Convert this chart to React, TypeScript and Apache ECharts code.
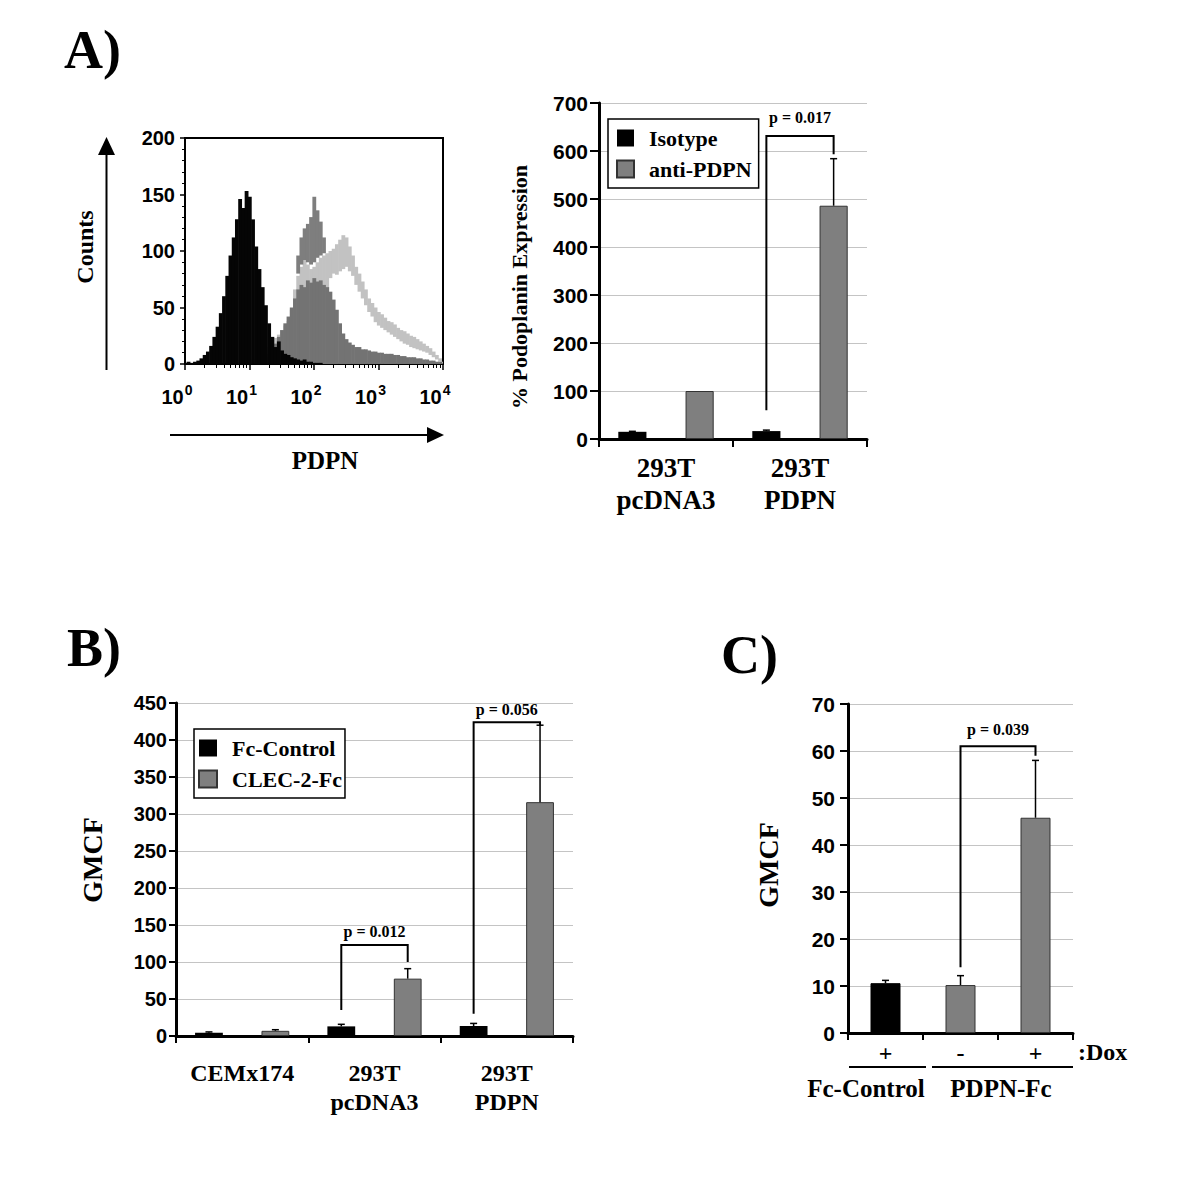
import React, { useEffect, useRef } from "react";
import * as echarts from "echarts";

const SERIF = '"Liberation Serif", "Times New Roman", serif';
const SANS = '"Liberation Sans", Arial, sans-serif';

// ---------- Panel A, left: flow cytometry histogram (x = log10 PDPN, bins of 0.05 decade) ----------
const histDecades = [0, 1, 2, 3, 4];
const histMinorMultipliers = [2, 3, 4, 5, 6, 7, 8, 9];
const histBinStep = 0.05;
const isotypeCounts = [
  1, 2, 1, 2, 3, 5, 8, 11, 16, 24, 33, 45, 60, 78, 96, 112, 128, 146, 138, 153,
  148, 128, 104, 84, 68, 52, 36, 24, 15, 20, 12, 9, 8, 6, 5, 4, 3, 4, 2, 2,
  1, 1, 1, 0, 0, 0, 0, 0, 0, 0, 0, 0, 0, 0, 0, 0, 0, 0, 0, 0,
  0, 0, 0, 0, 0, 0, 0, 0, 0, 0, 0, 0, 0, 0, 0, 0, 0, 0, 0, 0, 0,
];
const pcdnaCounts = [
  0, 0, 0, 0, 0, 0, 0, 0, 0, 0, 0, 0, 0, 0, 0, 0, 0, 0, 0, 0,
  0, 1, 2, 3, 4, 6, 9, 13, 18, 24, 30, 36, 42, 50, 58, 66, 70, 68, 74, 72,
  76, 73, 74, 70, 68, 64, 57, 48, 36, 27, 22, 19, 17, 15, 15, 13, 13, 12, 11, 11,
  10, 10, 9, 9, 9, 8, 8, 7, 7, 6, 6, 6, 5, 5, 4, 4, 3, 3, 2, 2, 1,
];
const pdpnLower = [
  0, 0, 0, 0, 0, 0, 0, 0, 0, 0, 0, 0, 0, 0, 0, 0, 0, 0, 0, 0,
  0, 0, 0, 0, 0, 0, 0, 0, 0, 0, 0, 0, 0, 0, 0, 0, 0, 0, 0, 0,
  0, 0, 0, 0, 0, 76, 80, 79, 82, 84, 86, 82, 78, 70, 64, 58, 52, 46, 42, 37,
  34, 32, 30, 28, 26, 24, 22, 20, 18, 17, 15, 14, 13, 12, 11, 10, 8, 6, 4, 2, 0,
];
const pdpnUpper = [
  0, 0, 0, 0, 0, 0, 0, 0, 0, 0, 0, 0, 0, 0, 0, 0, 0, 1, 2, 2,
  3, 4, 5, 7, 9, 12, 15, 19, 23, 26, 30, 34, 38, 48, 66, 78, 86, 92, 88, 84,
  86, 90, 94, 96, 98, 100, 102, 106, 110, 114, 112, 104, 96, 86, 80, 73, 66, 58, 54, 50,
  46, 44, 41, 38, 37, 35, 32, 30, 29, 27, 25, 24, 22, 20, 18, 16, 14, 11, 8, 5, 2,
];
const peakBinLog = [1.75, 1.8, 1.85, 1.9, 1.95, 2.0, 2.05, 2.1, 2.15];
const peakLower = [80, 88, 92, 90, 88, 90, 94, 96, 98];
const peakUpper = [96, 112, 120, 124, 130, 148, 136, 126, 112];

// ---------- Panel A, right ----------
const aCategories = ["293T\npcDNA3", "293T\nPDPN"];
const aIsotype = [15, 16.5];
const aIsotypeErr = [16, 18.5];
const aAntiPdpn = [100, 486];
const aAntiPdpnErr = [100, 584];
// [leftCategory, leftSeries, rightCategory, rightSeries, leftFoot, top, rightFoot]
const aBrackets = [[1, 0, 1, 1, 60, 631, 593]];
const aPValues = ["p = 0.017"];

// ---------- Panel B ----------
const bCategories = ["CEMx174", "293T\npcDNA3", "293T\nPDPN"];
const bFcControl = [4.5, 13, 13.5];
const bFcControlErr = [5.5, 15.8, 17];
const bClec2Fc = [7, 77.5, 316];
const bClec2FcErr = [8.5, 91, 420];
const bBrackets = [
  [1, 0, 1, 1, 35, 123, 100],
  [2, 0, 2, 1, 30, 424, 420],
];
const bPValues = ["p = 0.012", "p = 0.056"];

// ---------- Panel C ----------
const cDox = ["+", "-", "+"];
const cGroups = ["Fc-Control", "PDPN-Fc"];
const cValues = [10.6, 10.2, 45.8];
const cErr = [11.2, 12.2, 58];
const cColors = ["#000000", "#7f7f7f", "#7f7f7f"];
const cBrackets = [[1, 0, 2, 0, 14, 61, 59]];
const cPValues = ["p = 0.039"];

// ---------- layout ----------
const HIST = { left: 185, top: 138, width: 258, height: 226 };
const GA = { left: 599, top: 103, width: 268, height: 336 };
const GB = { left: 176, top: 703, width: 397, height: 333 };
const GC = { left: 848, top: 704, width: 225, height: 329 };
const BAR_W = 0.21;
const BAR_GAP = 1.39;
const PAIR_OFFSET = (BAR_W * (1 + BAR_GAP)) / 2;

const black = "#000";
const barGray = "#7f7f7f";

function histSeries(name: string, rows: number[][], color: string, z: number) {
  return {
    type: "custom",
    name,
    xAxisIndex: 0,
    yAxisIndex: 0,
    z,
    silent: true,
    clip: true,
    data: rows,
    encode: { x: 0, y: [1, 2] },
    renderItem: (_p: any, api: any) => {
      const x = api.value(0);
      const lo = api.value(1);
      const hi = api.value(2);
      if (!(hi > lo)) return { type: "group", children: [] };
      const a = api.coord([x - histBinStep / 2, lo]);
      const b = api.coord([x + histBinStep / 2, hi]);
      return {
        type: "rect",
        shape: { x: a[0], y: b[1], width: b[0] - a[0] + 0.6, height: a[1] - b[1] },
        style: { fill: color },
      };
    },
  };
}

function errorSeries(xAxisIndex: number, yAxisIndex: number, vals: number[], tops: number[], slot: number) {
  return {
    type: "custom",
    xAxisIndex,
    yAxisIndex,
    z: 5,
    silent: true,
    data: vals.map((v, i) => [i, v, tops[i]]),
    encode: { x: 0, y: [1, 2] },
    renderItem: (_p: any, api: any) => {
      const i = api.value(0);
      const v = api.value(1);
      const t = api.value(2);
      if (!(t > v)) return { type: "group", children: [] };
      const band = api.size([1, 0])[0];
      const base = api.coord([i, v]);
      const top = api.coord([i, t]);
      const x = base[0] + slot * band;
      return {
        type: "group",
        children: [
          { type: "line", shape: { x1: x, y1: base[1], x2: x, y2: top[1] }, style: { stroke: "#000", lineWidth: 1.5 } },
          { type: "line", shape: { x1: x - 3.5, y1: top[1], x2: x + 3.5, y2: top[1] }, style: { stroke: "#000", lineWidth: 1.5 } },
        ],
      };
    },
  };
}

function bracketSeries(xAxisIndex: number, yAxisIndex: number, rows: number[][], labels: string[], pairOffset: number, textGap: number) {
  const slotOf = (s: number) => (pairOffset === 0 ? 0 : s === 0 ? -pairOffset : pairOffset);
  return {
    type: "custom",
    xAxisIndex,
    yAxisIndex,
    z: 6,
    silent: true,
    clip: false,
    data: rows,
    encode: { x: 0, y: 5 },
    renderItem: (params: any, api: any) => {
      const band = api.size([1, 0])[0];
      const l = api.coord([api.value(0), api.value(4)]);
      const t = api.coord([api.value(0), api.value(5)]);
      const r = api.coord([api.value(2), api.value(6)]);
      const xl = l[0] + slotOf(api.value(1)) * band;
      const xr = r[0] + slotOf(api.value(3)) * band;
      return {
        type: "group",
        children: [
          {
            type: "polyline",
            shape: { points: [[xl, l[1]], [xl, t[1]], [xr, t[1]], [xr, r[1]]] },
            style: { stroke: "#000", lineWidth: 2, fill: "none" },
          },
          {
            type: "text",
            style: {
              text: labels[params.dataIndex],
              x: (xl + xr) / 2,
              y: t[1] - textGap,
              textAlign: "center",
              textVerticalAlign: "bottom",
              font: `bold 16px ${SERIF}`,
              fill: "#000",
            },
          },
        ],
      };
    },
  };
}

function barYAxis(gridIndex: number, max: number, interval: number, fontSize: number, margin: number, tickLen: number) {
  return {
    type: "value",
    gridIndex,
    min: 0,
    max,
    interval,
    axisLine: { show: true, lineStyle: { color: "#000", width: 3 } },
    axisTick: { show: true, length: tickLen, lineStyle: { color: "#000", width: 2 } },
    axisLabel: { color: "#000", fontFamily: SANS, fontWeight: "bold", fontSize, margin },
    splitLine: { show: true, lineStyle: { color: "#c4c4c4", width: 1 } },
  };
}

function barXAxis(gridIndex: number, data: string[], fontSize: number, lineHeight: number, margin: number, tickLen: number) {
  return {
    type: "category",
    gridIndex,
    data,
    axisLine: { show: true, lineStyle: { color: "#000", width: 3 } },
    axisTick: { show: true, length: tickLen, lineStyle: { color: "#000", width: 2 } },
    axisLabel: {
      color: "#000",
      fontFamily: SERIF,
      fontWeight: "bold",
      fontSize,
      lineHeight,
      margin,
      interval: 0,
    },
    splitLine: { show: false },
  };
}

function buildOption(): any {
  const histMinorTicks: number[] = [];
  histDecades.slice(0, -1).forEach((d) =>
    histMinorMultipliers.forEach((m) => histMinorTicks.push(d + Math.log10(m)))
  );
  const rowsFrom = (counts: number[]) => counts.map((c, i) => [i * histBinStep, 0, c]);
  const bandRows = pdpnUpper.map((u, i) => [i * histBinStep, pdpnLower[i], u]);
  const peakRows = peakBinLog.map((x, i) => [x, peakLower[i], peakUpper[i]]);

  const titleFont = (size: number) => `bold ${size}px ${SERIF}`;

  const legendText = {
    color: "#000",
    fontFamily: SERIF,
    fontWeight: "bold",
    fontSize: 22,
    lineHeight: 22,
    padding: [0, 0, 0, 10],
  };

  return {
    animation: false,
    backgroundColor: "#fff",
    grid: [
      { ...HIST, show: true, borderColor: "#000", borderWidth: 2, backgroundColor: "transparent", containLabel: false },
      { ...GA, containLabel: false },
      { ...GB, containLabel: false },
      { ...GC, containLabel: false },
    ],
    xAxis: [
      {
        type: "value",
        gridIndex: 0,
        min: 0,
        max: 4,
        interval: 1,
        position: "bottom",
        axisLine: { show: true, onZero: false, lineStyle: { color: "#000", width: 2 } },
        axisTick: { show: true, length: 6, lineStyle: { color: "#000", width: 1.5 } },
        splitLine: { show: false },
        axisLabel: {
          margin: 19,
          padding: [0, 16, 0, 0],
          formatter: (v: number) => `{b|10}{s|${v}}`,
          rich: {
            b: { fontFamily: SANS, fontWeight: "bold", fontSize: 20, lineHeight: 20, color: "#000", padding: [8, 0, 0, 0] },
            s: { fontFamily: SANS, fontWeight: "bold", fontSize: 14, lineHeight: 14, color: "#000", verticalAlign: "top", padding: [0, 0, 0, 1] },
          },
        },
      },
      {
        type: "value",
        gridIndex: 0,
        min: 0,
        max: 4,
        position: "bottom",
        axisLine: { show: false },
        axisLabel: { show: false },
        splitLine: { show: false },
        axisTick: { show: true, length: 4, customValues: histMinorTicks, lineStyle: { color: "#000", width: 1 } },
      },
      barXAxis(1, aCategories, 27, 32, 13, 8),
      barXAxis(2, bCategories, 24, 29, 22, 7),
      barXAxis(3, cDox, 24, 24, 8, 7),
    ],
    yAxis: [
      {
        type: "value",
        gridIndex: 0,
        min: 0,
        max: 200,
        interval: 50,
        axisLine: { show: true, lineStyle: { color: "#000", width: 2 } },
        axisTick: { show: true, length: 5, lineStyle: { color: "#000", width: 1.5 } },
        minorTick: { show: true, splitNumber: 5, length: 3, lineStyle: { color: "#000", width: 1 } },
        axisLabel: { color: "#000", fontFamily: SANS, fontWeight: "bold", fontSize: 20, margin: 10 },
        splitLine: { show: false },
      },
      barYAxis(1, 700, 100, 21, 11, 9),
      barYAxis(2, 450, 50, 20, 9, 7),
      barYAxis(3, 70, 10, 21, 13, 8),
    ],
    legend: [
      {
        data: ["Isotype", "anti-PDPN"],
        orient: "vertical",
        left: 608,
        top: 119,
        padding: [8, 7, 8, 8],
        itemGap: 9,
        itemWidth: 17,
        itemHeight: 17,
        icon: "rect",
        borderColor: "#000",
        borderWidth: 1.5,
        backgroundColor: "#fff",
        selectedMode: false,
        textStyle: legendText,
      },
      {
        data: ["Fc-Control", "CLEC-2-Fc"],
        orient: "vertical",
        left: 194,
        top: 729,
        padding: [8, 3, 8, 4],
        itemGap: 9,
        itemWidth: 18,
        itemHeight: 17,
        icon: "rect",
        borderColor: "#000",
        borderWidth: 1.5,
        backgroundColor: "#fff",
        selectedMode: false,
        textStyle: legendText,
      },
    ],
    series: [
      histSeries("PDPN transfected", bandRows, "#c2c2c2", 1),
      histSeries("pcDNA3", rowsFrom(pcdnaCounts), "#737373", 2),
      histSeries("PDPN peak", peakRows, "#7e7e7e", 3),
      histSeries("Isotype control", rowsFrom(isotypeCounts), "#050505", 4),

      {
        type: "bar",
        name: "Isotype",
        xAxisIndex: 2,
        yAxisIndex: 1,
        data: aIsotype,
        barWidth: `${BAR_W * 100}%`,
        barGap: `${BAR_GAP * 100}%`,
        itemStyle: { color: black },
      },
      {
        type: "bar",
        name: "anti-PDPN",
        xAxisIndex: 2,
        yAxisIndex: 1,
        data: aAntiPdpn,
        barWidth: `${BAR_W * 100}%`,
        barGap: `${BAR_GAP * 100}%`,
        itemStyle: { color: barGray, borderColor: "#333", borderWidth: 1 },
      },
      errorSeries(2, 1, aIsotype, aIsotypeErr, -PAIR_OFFSET),
      errorSeries(2, 1, aAntiPdpn, aAntiPdpnErr, PAIR_OFFSET),
      bracketSeries(2, 1, aBrackets, aPValues, PAIR_OFFSET, 11),

      {
        type: "bar",
        name: "Fc-Control",
        xAxisIndex: 3,
        yAxisIndex: 2,
        data: bFcControl,
        barWidth: `${BAR_W * 100}%`,
        barGap: `${BAR_GAP * 100}%`,
        itemStyle: { color: black },
      },
      {
        type: "bar",
        name: "CLEC-2-Fc",
        xAxisIndex: 3,
        yAxisIndex: 2,
        data: bClec2Fc,
        barWidth: `${BAR_W * 100}%`,
        barGap: `${BAR_GAP * 100}%`,
        itemStyle: { color: barGray, borderColor: "#333", borderWidth: 1 },
      },
      errorSeries(3, 2, bFcControl, bFcControlErr, -PAIR_OFFSET),
      errorSeries(3, 2, bClec2Fc, bClec2FcErr, PAIR_OFFSET),
      bracketSeries(3, 2, bBrackets, bPValues, PAIR_OFFSET, 5),

      {
        type: "bar",
        name: "GMCF",
        xAxisIndex: 4,
        yAxisIndex: 3,
        data: cValues.map((v, i) => ({
          value: v,
          itemStyle: { color: cColors[i], borderColor: i === 0 ? "#000" : "#333", borderWidth: 1 },
        })),
        barWidth: "40%",
      },
      errorSeries(4, 3, cValues, cErr, 0),
      bracketSeries(4, 3, cBrackets, cPValues, 0, 9),
    ],
    graphic: [
      // panel letters
      { type: "text", x: 64, y: 50, style: { text: "A)", font: titleFont(54), fill: "#000", textAlign: "left", textVerticalAlign: "middle" } },
      { type: "text", x: 67, y: 648, style: { text: "B)", font: titleFont(54), fill: "#000", textAlign: "left", textVerticalAlign: "middle" } },
      { type: "text", x: 721, y: 655, style: { text: "C)", font: titleFont(54), fill: "#000", textAlign: "left", textVerticalAlign: "middle" } },

      // histogram arrows and titles
      { type: "line", shape: { x1: 106.5, y1: 370, x2: 106.5, y2: 150 }, style: { stroke: "#000", lineWidth: 2 } },
      { type: "polygon", shape: { points: [[106.5, 137], [98, 155], [115, 155]] }, style: { fill: "#000" } },
      { type: "line", shape: { x1: 170, y1: 435, x2: 430, y2: 435 }, style: { stroke: "#000", lineWidth: 2 } },
      { type: "polygon", shape: { points: [[444, 435], [427, 427], [427, 443]] }, style: { fill: "#000" } },
      { type: "text", x: 85, y: 247, rotation: Math.PI / 2, style: { text: "Counts", font: titleFont(24), fill: "#000", textAlign: "center", textVerticalAlign: "middle" } },
      { type: "text", x: 325, y: 460, style: { text: "PDPN", font: titleFont(25), fill: "#000", textAlign: "center", textVerticalAlign: "middle" } },

      // y-axis titles
      { type: "text", x: 519, y: 287, rotation: Math.PI / 2, style: { text: "% Podoplanin Expression", font: titleFont(22), fill: "#000", textAlign: "center", textVerticalAlign: "middle" } },
      { type: "text", x: 92, y: 860, rotation: Math.PI / 2, style: { text: "GMCF", font: titleFont(28), fill: "#000", textAlign: "center", textVerticalAlign: "middle" } },
      { type: "text", x: 768, y: 865, rotation: Math.PI / 2, style: { text: "GMCF", font: titleFont(28), fill: "#000", textAlign: "center", textVerticalAlign: "middle" } },

      // panel C group annotations
      { type: "text", x: GC.left + GC.width + 5, y: 1052, style: { text: ":Dox", font: titleFont(24), fill: "#000", textAlign: "left", textVerticalAlign: "middle" } },
      { type: "line", shape: { x1: GC.left + 1, y1: 1067, x2: GC.left + GC.width / 3 + 3, y2: 1067 }, style: { stroke: "#000", lineWidth: 2 } },
      { type: "line", shape: { x1: GC.left + GC.width / 3 + 9, y1: 1067, x2: GC.left + GC.width, y2: 1067 }, style: { stroke: "#000", lineWidth: 2 } },
      { type: "text", x: 866, y: 1088, style: { text: cGroups[0], font: titleFont(25), fill: "#000", textAlign: "center", textVerticalAlign: "middle" } },
      { type: "text", x: 1001, y: 1088, style: { text: cGroups[1], font: titleFont(25), fill: "#000", textAlign: "center", textVerticalAlign: "middle" } },
    ],
  };
}

export default function App() {
  const ref = useRef<HTMLDivElement>(null);
  useEffect(() => {
    if (!ref.current) return;
    const chart = echarts.init(ref.current, null, { renderer: "svg" });
    chart.setOption(buildOption());
    return () => chart.dispose();
  }, []);
  return (
    <div
      ref={ref}
      style={{ position: "absolute", left: 0, top: 0, width: 1200, height: 1177, background: "#fff" }}
    />
  );
}
